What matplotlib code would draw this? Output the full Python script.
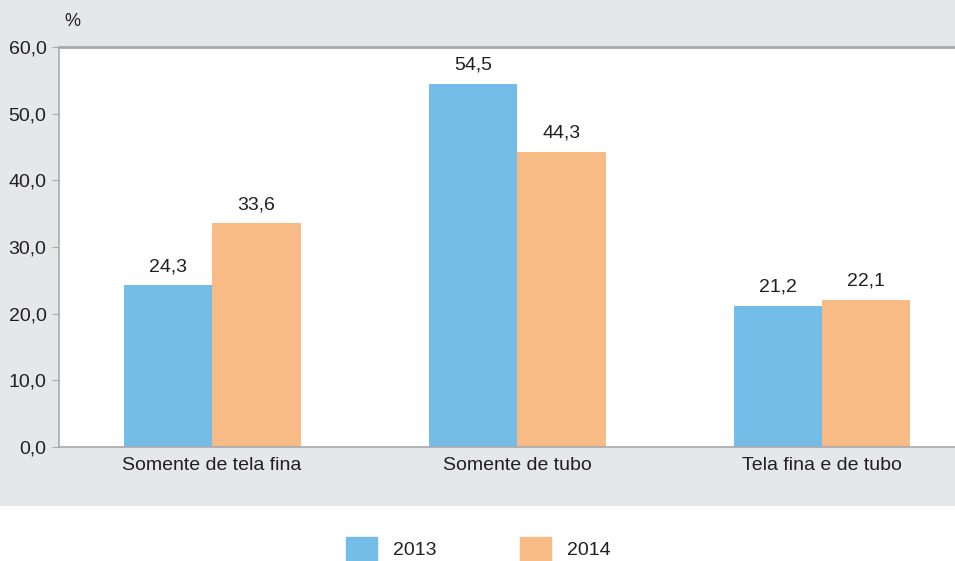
import numpy as np
import matplotlib
matplotlib.use("Agg")
import matplotlib.pyplot as plt
from matplotlib.patches import Rectangle, Patch

categories = ["Somente de tela fina", "Somente de tubo", "Tela fina e de tubo"]
years = ["2013", "2014"]
vals_2013 = [24.3, 54.5, 21.2]
vals_2014 = [33.6, 44.3, 22.1]
yticks = [0, 10, 20, 30, 40, 50, 60]

blue = "#74bde8"
orange = "#f9bb86"
bg = "#e6e7e9"
txt = "#231f20"
grid_c = "#a7a9ac"

plt.rcParams['font.family'] = ['Liberation Sans', 'DejaVu Sans']
fs = 14

fig = plt.figure(figsize=(9.55, 5.61), dpi=100)
fig.patches.append(Rectangle((0, 55 / 561), 1, 1, transform=fig.transFigure,
                             facecolor=bg, edgecolor="none", zorder=-10))

ax = fig.add_axes([59 / 955, 114 / 561, 1 - 59 / 955, 400 / 561])
ax.set_facecolor("white")

x = np.arange(len(categories))
w = 0.29
b1 = ax.bar(x - w / 2, vals_2013, w, color=blue, zorder=2)
b2 = ax.bar(x + w / 2, vals_2014, w, color=orange, zorder=2)

for bars, vals in [(b1, vals_2013), (b2, vals_2014)]:
    for rect, v in zip(bars, vals):
        ax.annotate(f"{v:.1f}".replace(".", ","),
                    (rect.get_x() + rect.get_width() / 2, v),
                    xytext=(0, 7), textcoords="offset points",
                    ha="center", va="bottom", fontsize=fs, color=txt)

ax.set_xlim(-0.502, 2.436)
ax.set_ylim(0, 60)
ax.set_yticks(yticks)
ax.set_yticklabels([f"{t:.1f}".replace(".", ",") for t in yticks])
ax.set_xticks(x)
ax.set_xticklabels(categories)
ax.tick_params(axis="y", length=5, color=grid_c, labelsize=fs, labelcolor=txt, pad=4)
ax.tick_params(axis="x", length=0, labelsize=fs, labelcolor=txt, pad=7)

for s in ["left", "bottom"]:
    ax.spines[s].set_color(grid_c)
    ax.spines[s].set_linewidth(1.2)
ax.spines["top"].set_color(grid_c)
ax.spines["top"].set_linewidth(2)
ax.spines["right"].set_visible(False)

fig.text(64 / 955, 1 - 22 / 561, "%", fontsize=fs - 1, color=txt, va="center")

handles = [Patch(color=blue, label=years[0]), Patch(color=orange, label=years[1])]
fig.legend(handles=handles, loc="center", bbox_to_anchor=(0.501, 12 / 561), ncol=2,
           frameon=False, fontsize=fs, handlelength=1.6, handleheight=1.45,
           handletextpad=0.82, columnspacing=4.3, labelcolor=txt,
           borderpad=0, borderaxespad=0)

fig.savefig("out.png", dpi=100)
